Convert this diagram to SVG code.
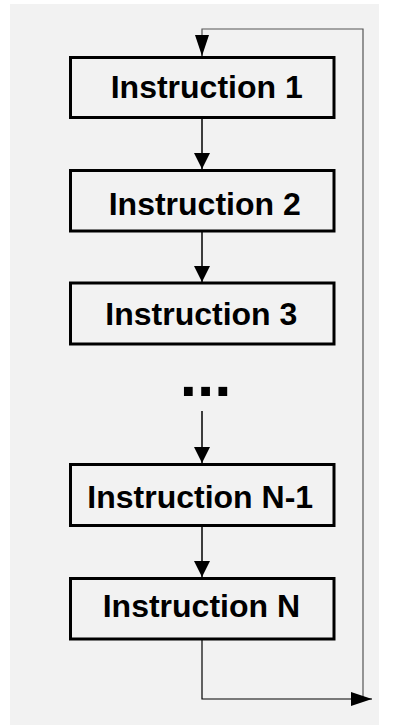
<svg xmlns="http://www.w3.org/2000/svg" width="398" height="725" viewBox="0 0 398 725">
<style>
.box{fill:#f2f2f2;stroke:#000;stroke-width:3}
.lbl{font-family:"Liberation Sans",Arial,sans-serif;font-weight:bold;font-size:32px;fill:#000}
.flow{fill:none;stroke:#000;stroke-width:1.5}
.loop{fill:none;stroke:#555;stroke-width:1.2}
.loopb{fill:none;stroke:#000;stroke-width:1.2}
</style>
<defs>
<marker id="ah" markerUnits="userSpaceOnUse" markerWidth="16" markerHeight="16" refX="16" refY="8" orient="auto">
<path d="M0,0 L16,8 L0,16 Z" fill="#000"/>
</marker>
<marker id="ah2" markerUnits="userSpaceOnUse" markerWidth="21" markerHeight="14" refX="21" refY="7" orient="auto">
<path d="M0,0 L21,7 L0,14 Z" fill="#000"/>
</marker>
</defs>
<rect x="10" y="4" width="369" height="721" fill="#f2f2f2"/>
<g id="connectors">
<polyline class="loop" points="363,699 363,29 202,29 202,36"/>
<line class="loopb" x1="202" y1="36" x2="202" y2="56" marker-end="url(#ah2)"/>
<line class="flow" x1="202" y1="119" x2="202" y2="169" marker-end="url(#ah)"/>
<line class="flow" x1="202" y1="232" x2="202" y2="282" marker-end="url(#ah)"/>
<line class="flow" x1="202" y1="411" x2="202" y2="463" marker-end="url(#ah)"/>
<line class="flow" x1="202" y1="527" x2="202" y2="577" marker-end="url(#ah)"/>
<polyline class="loopb" points="202,640 202,699 372,699" marker-end="url(#ah2)"/>
</g>
<g id="n1"><rect class="box" x="70.5" y="57.5" width="263.5" height="60"/><text class="lbl" x="110.7" y="98">Instruction 1</text></g>
<g id="n2"><rect class="box" x="70.5" y="170.5" width="263.5" height="60.5"/><text class="lbl" x="108.7" y="215">Instruction 2</text></g>
<g id="n3"><rect class="box" x="70.5" y="283" width="263.5" height="61"/><text class="lbl" x="105.3" y="325">Instruction 3</text></g>
<g id="dots"><text class="lbl" style="font-size:62px" x="179.7" y="396">...</text></g>
<g id="nn1"><rect class="box" x="70.5" y="464.5" width="263.5" height="61"/><text class="lbl" x="87.3" y="508">Instruction N-1</text></g>
<g id="nn"><rect class="box" x="70.5" y="578.5" width="263.5" height="60.5"/><text class="lbl" x="102.7" y="617">Instruction N</text></g>
</svg>
